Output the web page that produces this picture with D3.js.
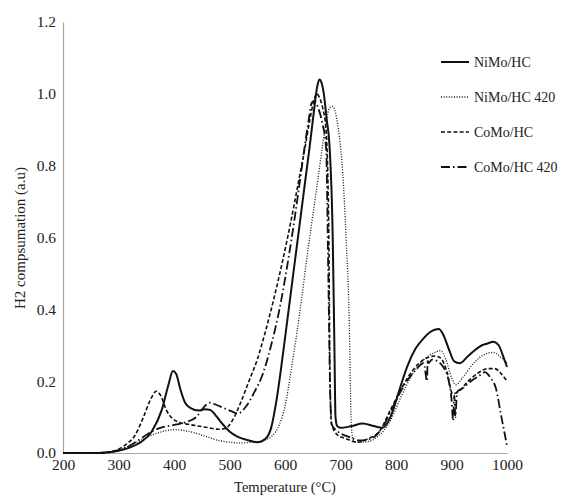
<!DOCTYPE html>
<html><head><meta charset="utf-8">
<script src="https://cdn.jsdelivr.net/npm/d3@7"></script>
<style>body{margin:0;background:#fff}svg{display:block}
text{font-family:"Liberation Serif","Tinos","Times New Roman","DejaVu Serif",serif !important;}</style>
</head><body><svg id="c" width="564" height="498"></svg>
<script>
const xTicks = [200,300,400,500,600,700,800,900,1000];
const yTicks = [0.0,0.2,0.4,0.6,0.8,1.0,1.2];
const seriesNames = ["NiMo/HC","NiMo/HC 420","CoMo/HC","CoMo/HC 420"];

const nimoT = [200,260,280,300,320,340,360,378,390,398,404,411,420,430,445,455,465,475,485,500,515,535,550,565,575,585,595,605,615,625,635,645,652,658,662,666,670,675,680,686,689,691,694,700,720,740,760,775,790,805,820,835,850,865,877,885,895,905,915,930,945,955,965,975,985,993,1000];
const nimoV = [0,0,0.002,0.006,0.015,0.03,0.06,0.12,0.19,0.228,0.22,0.18,0.14,0.125,0.118,0.122,0.12,0.105,0.085,0.06,0.045,0.035,0.03,0.04,0.07,0.15,0.26,0.38,0.5,0.62,0.74,0.86,0.95,1.02,1.04,1.03,1.0,0.93,0.86,0.6,0.3,0.1,0.075,0.07,0.075,0.082,0.075,0.07,0.1,0.17,0.24,0.29,0.32,0.34,0.345,0.33,0.29,0.255,0.25,0.27,0.29,0.3,0.305,0.31,0.3,0.27,0.24];

const nimo420T = [200,270,300,320,340,360,380,400,420,440,460,480,500,520,540,560,575,590,600,610,620,630,640,650,660,668,675,680,686,692,698,704,710,716,719,722,730,750,770,790,810,830,850,870,880,890,900,908,920,940,960,975,990,1000];
const nimo420V = [0,0,0.008,0.02,0.035,0.05,0.06,0.065,0.062,0.055,0.045,0.035,0.03,0.028,0.03,0.035,0.045,0.08,0.13,0.22,0.32,0.43,0.55,0.66,0.77,0.86,0.93,0.96,0.965,0.94,0.88,0.78,0.6,0.35,0.1,0.04,0.03,0.032,0.05,0.09,0.16,0.22,0.26,0.28,0.285,0.26,0.21,0.19,0.21,0.25,0.275,0.28,0.265,0.25];

const comoT = [200,260,290,310,330,345,358,368,376,386,398,410,425,440,460,480,492,505,520,535,550,565,580,595,610,625,636,645,652,657,662,668,674,679,681,684,695,710,730,750,770,790,810,830,850,870,880,892,902,912,930,950,965,978,990,1000];
const comoV = [0,0,0.005,0.02,0.05,0.1,0.15,0.172,0.16,0.12,0.095,0.085,0.08,0.076,0.071,0.066,0.068,0.09,0.14,0.2,0.26,0.34,0.43,0.53,0.64,0.76,0.85,0.93,0.98,1.0,0.99,0.96,0.9,0.6,0.2,0.08,0.05,0.04,0.03,0.04,0.06,0.12,0.18,0.23,0.26,0.27,0.265,0.225,0.165,0.17,0.2,0.225,0.235,0.235,0.22,0.2];

const como420T = [200,270,300,320,340,360,380,400,420,440,455,465,475,490,505,515,530,545,560,575,590,605,618,628,637,644,648,653,660,667,674,678,681,684,695,715,735,755,775,795,815,835,850,856,857,858,865,875,885,895,900,903,905,907,910,920,935,950,960,970,980,990,1000];
const como420V = [0,0,0.008,0.02,0.04,0.06,0.072,0.078,0.085,0.1,0.13,0.14,0.135,0.125,0.115,0.11,0.13,0.17,0.22,0.3,0.4,0.53,0.66,0.77,0.87,0.94,0.975,0.98,0.96,0.92,0.85,0.5,0.2,0.08,0.06,0.045,0.035,0.04,0.07,0.13,0.19,0.23,0.25,0.2,0.26,0.25,0.26,0.255,0.24,0.2,0.15,0.09,0.16,0.1,0.17,0.18,0.2,0.215,0.225,0.21,0.18,0.1,0.02];

const seriesT = [nimoT, nimo420T, comoT, como420T];
const seriesV = [nimoV, nimo420V, comoV, como420V];
const dashes = [null, "1,1.6", "4,2.2", "9,3,1.5,3"];
const widths = [2, 1.3, 1.6, 1.8];

const svg = d3.select("#c");
const x = d3.scaleLinear().domain([200,1000]).range([63,507]);
const y = d3.scaleLinear().domain([0,1.2]).range([453,22]);
const font = "Liberation Serif";

const xAxis = d3.axisBottom(x).tickValues(xTicks).tickSize(0).tickPadding(6).tickFormat(d3.format("d"));
const gx = svg.append("g").attr("transform","translate(0,453)").call(xAxis);
const yAxis = d3.axisLeft(y).tickValues(yTicks).tickSize(0).tickPadding(7).tickFormat(d3.format(".1f"));
const gy = svg.append("g").attr("transform","translate(63,0)").call(yAxis);
[gx,gy].forEach(g=>{
  g.attr("font-family",null);
  g.select(".domain").attr("stroke","#a8a8a8").attr("stroke-width",1.2);
  g.selectAll("text").style("font-family",font).attr("font-size",15.5).attr("fill","#222");
});

const line = d3.line().x(d=>x(d[0])).y(d=>y(d[1])).curve(d3.curveMonotoneX);
seriesT.forEach((T,i)=>{
  const pts = T.map((t,j)=>[t, seriesV[i][j]]);
  svg.append("path").datum(pts).attr("d",line).attr("fill","none")
    .attr("stroke","#111").attr("stroke-width",widths[i])
    .attr("stroke-dasharray",dashes[i]);
});

svg.append("text").attr("x",285).attr("y",492).attr("text-anchor","middle")
  .style("font-family",font).attr("font-size",14.5).attr("fill","#222").text("Temperature (°C)");
svg.append("text").attr("transform","translate(25,238) rotate(-90)").attr("text-anchor","middle")
  .style("font-family",font).attr("font-size",15).attr("fill","#222").text("H2 compsumation (a.u)");

const lg = svg.append("g");
seriesNames.forEach((n,i)=>{
  const yy = 62 + i*35;
  lg.append("line").attr("x1",441).attr("x2",469).attr("y1",yy).attr("y2",yy)
    .attr("stroke","#111").attr("stroke-width",widths[i]).attr("stroke-dasharray",dashes[i]);
  lg.append("text").attr("x",474).attr("y",yy+5).style("font-family",font).attr("font-size",14)
    .attr("fill","#222").text(n);
});
</script></body></html>
